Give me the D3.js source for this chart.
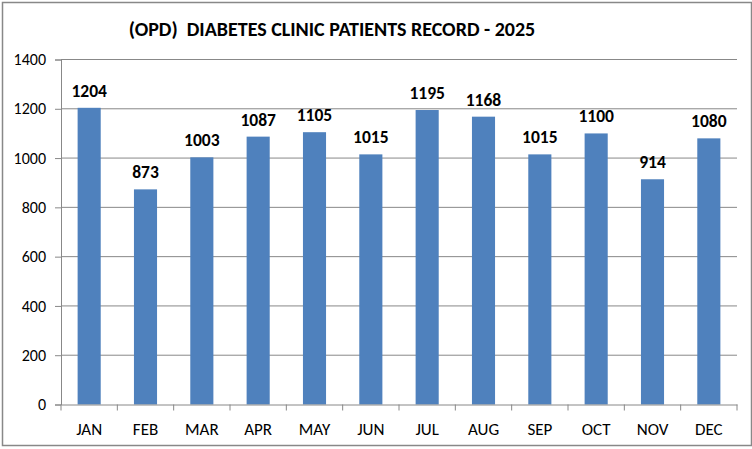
<!DOCTYPE html>
<html lang="en">
<head>
<meta charset="utf-8">
<title>Diabetes clinic patients</title>
<script src="https://cdn.jsdelivr.net/npm/d3@7"></script>
<style>
  body { margin: 0; background: #fff; }
  text { font-family: Carlito, Calibri, "Liberation Sans", sans-serif; white-space: pre; }
</style>
</head>
<body>
<div id="chart"></div>
<script>
var months = ['JAN', 'FEB', 'MAR', 'APR', 'MAY', 'JUN', 'JUL', 'AUG', 'SEP', 'OCT', 'NOV', 'DEC'];
var patients = [1204, 873, 1003, 1087, 1105, 1015, 1195, 1168, 1015, 1100, 914, 1080];
var yTicks = [0, 200, 400, 600, 800, 1000, 1200, 1400];

var width = 752, height = 449;
var plotLeft = 61, plotRight = 737, plotTop = 59.5, plotBottom = 404.5;
var fontStack = 'Carlito, Calibri, "Liberation Sans", sans-serif';

var svg = d3.select('#chart').append('svg')
  .attr('width', width).attr('height', height);

// outer frame
svg.append('rect')
  .attr('x', 2.5).attr('y', 2.5)
  .attr('width', 749).attr('height', 443)
  .attr('fill', '#fff').attr('stroke', '#888').attr('stroke-width', 1.5);

svg.append('text')
  .attr('x', 332).attr('y', 36)
  .attr('text-anchor', 'middle')
  .attr('font-size', 20).attr('font-weight', 'bold')
  .text('(OPD)  DIABETES CLINIC PATIENTS RECORD - 2025');

var x = d3.scaleBand().domain(months).range([plotLeft, plotRight]).paddingInner(0.59).paddingOuter(0.295);
var xTickScale = d3.scaleBand().domain(months).range([plotLeft, plotRight]);
var y = d3.scaleLinear().domain([0, 1400]).range([plotBottom, plotTop]);

// gridlines
svg.append('g').selectAll('line').data(yTicks.slice(1)).enter().append('line')
  .attr('x1', plotLeft).attr('x2', plotRight)
  .attr('y1', function(d) { return y(d); }).attr('y2', function(d) { return y(d); })
  .attr('stroke', '#888').attr('stroke-width', 1);

// y axis
var yAxis = svg.append('g').attr('transform', 'translate(' + plotLeft + ',0)')
  .call(d3.axisLeft(y).tickValues(yTicks).tickFormat(d3.format('d')).tickSize(6).tickPadding(9));
yAxis.select('.domain').attr('stroke', '#888');
yAxis.selectAll('line').attr('stroke', '#888');
yAxis.selectAll('text').attr('font-size', 16).attr('fill', '#000')
  .style('font-family', fontStack);

// bars
svg.append('g').selectAll('rect').data(patients).enter().append('rect')
  .attr('x', function(d, i) { return x(months[i]); })
  .attr('y', function(d) { return y(d); })
  .attr('width', x.bandwidth())
  .attr('height', function(d) { return y(0) - y(d); })
  .attr('fill', '#4F81BD');

// value labels
svg.append('g').selectAll('text').data(patients).enter().append('text')
  .attr('x', function(d, i) { return x(months[i]) + x.bandwidth() / 2; })
  .attr('y', function(d) { return y(d) - 11; })
  .attr('text-anchor', 'middle')
  .attr('font-size', 17.5).attr('font-weight', 'bold')
  .text(function(d) { return d; });

// x axis
var xAxis = svg.append('g').attr('transform', 'translate(0,' + plotBottom + ')')
  .call(d3.axisBottom(xTickScale).tickSize(0).tickPadding(18));
xAxis.select('.domain').attr('stroke', '#888');
xAxis.selectAll('text').attr('font-size', 17).attr('fill', '#000')
  .style('font-family', fontStack);

// tick marks between categories
var bounds = months.map(function(m) { return xTickScale(m); }).concat([plotRight]);
svg.append('g').selectAll('line').data(bounds).enter().append('line')
  .attr('x1', function(d) { return d; }).attr('x2', function(d) { return d; })
  .attr('y1', plotBottom).attr('y2', plotBottom + 6)
  .attr('stroke', '#888');
</script>
</body>
</html>
